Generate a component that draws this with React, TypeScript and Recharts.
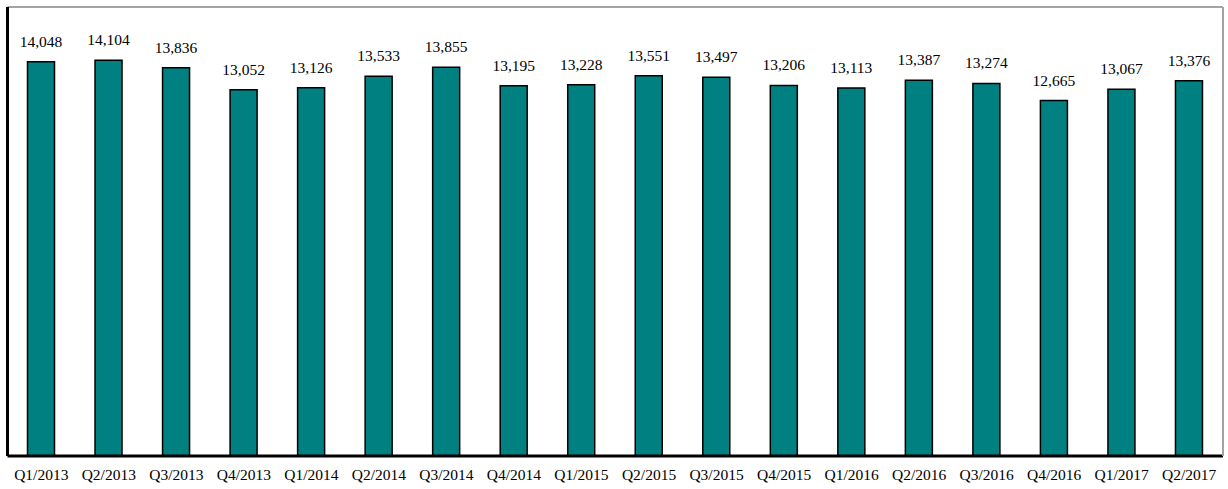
import { BarChart, Bar, XAxis, YAxis, LabelList, ReferenceLine } from 'recharts';

const quarters = [
    'Q1/2013', 'Q2/2013', 'Q3/2013', 'Q4/2013',
    'Q1/2014', 'Q2/2014', 'Q3/2014', 'Q4/2014',
    'Q1/2015', 'Q2/2015', 'Q3/2015', 'Q4/2015',
    'Q1/2016', 'Q2/2016', 'Q3/2016', 'Q4/2016',
    'Q1/2017', 'Q2/2017',
];

const values = [
    14048, 14104, 13836, 13052,
    13126, 13533, 13855, 13195,
    13228, 13551, 13497, 13206,
    13113, 13387, 13274, 12665,
    13067, 13376,
];

const data = quarters.map((name, i) => ({ name, value: values[i] }));

const FONT = '"Liberation Serif", "Times New Roman", serif';
const BORDER = '#a3a3a3';

export default function App() {
    return (
        <div style={{ position: 'absolute', left: 0, top: 0, background: '#fff' }}>
            <BarChart
                width={1228}
                height={489}
                data={data}
                margin={{ top: 7, right: 4, left: 6.5, bottom: 3 }}
                barSize={27}
            >
                <XAxis
                    dataKey="name"
                    height={30}
                    tickLine={false}
                    tickSize={0}
                    tickMargin={13}
                    axisLine={{ stroke: '#000', strokeWidth: 3 }}
                    tick={{ fill: '#000', fontSize: 15.5, fontFamily: FONT }}
                    interval={0}
                />
                <YAxis
                    yAxisId="l"
                    width={1}
                    domain={[0, 16000]}
                    tick={false}
                    tickLine={false}
                    axisLine={{ stroke: '#000', strokeWidth: 3 }}
                />
                <YAxis
                    yAxisId="r"
                    orientation="right"
                    width={1}
                    domain={[0, 16000]}
                    tick={false}
                    tickLine={false}
                    axisLine={{ stroke: BORDER, strokeWidth: 2 }}
                />
                <ReferenceLine yAxisId="l" y={16000} stroke={BORDER} strokeWidth={2} />
                <Bar
                    yAxisId="l"
                    dataKey="value"
                    fill="#008080"
                    stroke="#000"
                    strokeWidth={1.5}
                    isAnimationActive={false}
                >
                    <LabelList
                        dataKey="value"
                        position="top"
                        offset={15}
                        formatter={(v: number) => v.toLocaleString('en-US')}
                        style={{ fill: '#000', fontSize: 15.5, fontFamily: FONT }}
                    />
                </Bar>
            </BarChart>
        </div>
    );
}
